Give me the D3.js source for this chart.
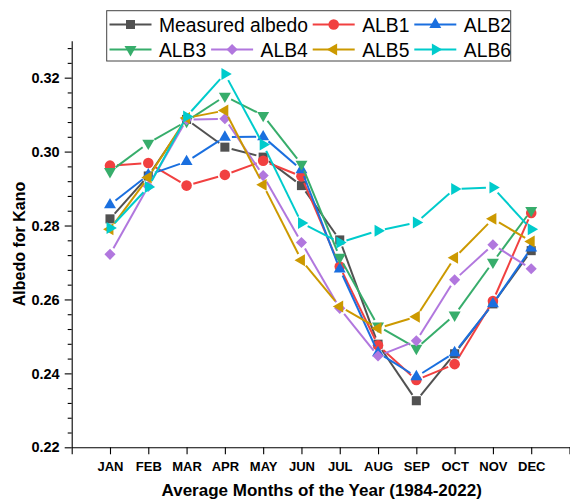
<!DOCTYPE html>
<html>
<head>
<meta charset="utf-8">
<script src="https://cdn.jsdelivr.net/npm/d3@7"></script>
<style>
  html, body { margin: 0; padding: 0; background: #fff; }
  svg { display: block; font-family: Arial, "Liberation Sans", sans-serif; }
</style>
</head>
<body>
<svg id="chart" width="570" height="502"></svg>
<script>
// Monthly mean albedo for Kano, 1984-2022: measured values and six model estimates
const months = ["JAN", "FEB", "MAR", "APR", "MAY", "JUN", "JUL", "AUG", "SEP", "OCT", "NOV", "DEC"];
const measured = [0.2818, 0.2934, 0.3087, 0.3012, 0.2985, 0.2908, 0.2761, 0.2479, 0.2326, 0.2453, 0.2588, 0.2732];
const alb1 = [0.2962, 0.2969, 0.2908, 0.2937, 0.2975, 0.2933, 0.2689, 0.2476, 0.2382, 0.2425, 0.2596, 0.2834];
const alb2 = [0.2856, 0.2937, 0.2973, 0.3039, 0.3040, 0.2951, 0.2682, 0.2456, 0.2391, 0.2456, 0.2588, 0.2739];
const alb3 = [0.2946, 0.3023, 0.3082, 0.3150, 0.3098, 0.2966, 0.2714, 0.2528, 0.2468, 0.2558, 0.2701, 0.2841];
const alb4 = [0.2722, 0.2906, 0.3086, 0.3089, 0.2935, 0.2754, 0.2576, 0.2447, 0.2488, 0.2653, 0.2748, 0.2683];
const alb5 = [0.2790, 0.2930, 0.3091, 0.3111, 0.2910, 0.2706, 0.2581, 0.2522, 0.2553, 0.2713, 0.2818, 0.2757];
const alb6 = [0.2793, 0.2904, 0.3095, 0.3210, 0.3019, 0.2807, 0.2754, 0.2786, 0.2808, 0.2899, 0.2903, 0.2790];
const seriesNames = ["Measured albedo", "ALB1", "ALB2", "ALB3", "ALB4", "ALB5", "ALB6"];
const yTicks = [0.22, 0.24, 0.26, 0.28, 0.30, 0.32];

const seriesValues = [measured, alb1, alb2, alb3, alb4, alb5, alb6];
const colors = ["#515151", "#F14040", "#1A6FDF", "#37AD6B", "#B177DE", "#CC9900", "#00CBCC"];

// marker shape and rotation per series
const markers = [
  { type: d3.symbolSquare, size: 82, rot: 0 },
  { type: d3.symbolCircle, size: 88, rot: 0 },
  { type: d3.symbolTriangle, size: 62, rot: 0 },
  { type: d3.symbolTriangle, size: 62, rot: 180 },
  { type: d3.symbolSquare, size: 62, rot: 45 },
  { type: d3.symbolTriangle, size: 62, rot: -90 },
  { type: d3.symbolTriangle, size: 62, rot: 90 }
];

const svg = d3.select("#chart");

const x = d3.scaleLinear().domain([0, 13]).range([71.7, 569.5]);
const y = d3.scaleLinear().domain([0.22, 0.33]).range([447.3, 40.7]);

// ---- axes ----
const xAxis = d3.axisBottom(x)
  .tickValues(d3.range(0, 14))
  .tickSize(7)
  .tickSizeOuter(0)
  .tickPadding(7.4)
  .tickFormat(i => (i >= 1 && i <= 12) ? months[i - 1] : "");

const gx = svg.append("g")
  .attr("transform", `translate(0,${y(0.22)})`)
  .call(xAxis);
gx.selectAll("text")
  .attr("fill", "#000")
  .style("font-size", "13px")
  .style("font-weight", "bold");

const minorY = d3.range(0, 28).map(i => 0.22 + i * 0.004)
  .filter(v => Math.abs(((v - 0.22) / 0.02) - Math.round((v - 0.22) / 0.02)) > 1e-6);

svg.append("g")
  .attr("transform", `translate(${x(0)},0)`)
  .call(d3.axisLeft(y).tickValues(minorY).tickSize(4).tickSizeOuter(0).tickFormat(""))
  .call(g => g.select(".domain").remove());

const gy = svg.append("g")
  .attr("transform", `translate(${x(0)},0)`)
  .call(d3.axisLeft(y).tickValues(yTicks).tickSize(7).tickSizeOuter(0).tickPadding(5).tickFormat(d3.format(".2f")));
gy.selectAll("text")
  .attr("fill", "#000")
  .style("font-size", "14.5px")
  .style("font-weight", "bold");

svg.selectAll(".domain, .tick line").attr("stroke", "#000").attr("stroke-width", 1.1);

// axis titles
svg.append("text")
  .attr("x", 321.7)
  .attr("y", 496)
  .attr("text-anchor", "middle")
  .style("font-size", "17px")
  .style("font-weight", "bold")
  .text("Average Months of the Year (1984-2022)");

svg.append("text")
  .attr("transform", `translate(25,${(y(0.22) + y(0.33)) / 2}) rotate(-90)`)
  .attr("text-anchor", "middle")
  .style("font-size", "16px")
  .style("font-weight", "bold")
  .text("Albedo for Kano");

// ---- series: line segments with a small gap around each marker, then markers ----
const gap = 7;
const plot = svg.append("g");

seriesValues.forEach((vals, si) => {
  const pts = vals.map((v, i) => [x(i + 1), y(v)]);
  const segs = d3.pairs(pts).map(([a, b]) => {
    const dx = b[0] - a[0], dy = b[1] - a[1];
    const len = Math.hypot(dx, dy);
    const ux = dx / len, uy = dy / len;
    return [a[0] + ux * gap, a[1] + uy * gap, b[0] - ux * gap, b[1] - uy * gap, len];
  }).filter(s => s[4] > 2 * gap);

  const g = plot.append("g");
  g.selectAll("line")
    .data(segs)
    .join("line")
    .attr("x1", s => s[0]).attr("y1", s => s[1])
    .attr("x2", s => s[2]).attr("y2", s => s[3])
    .attr("stroke", colors[si])
    .attr("stroke-width", 2);

  const m = markers[si];
  g.selectAll("path")
    .data(pts)
    .join("path")
    .attr("d", d3.symbol().type(m.type).size(m.size))
    .attr("transform", p => `translate(${p[0]},${p[1]}) rotate(${m.rot})`)
    .attr("fill", colors[si]);
});

// ---- legend ----
const legend = svg.append("g");
legend.append("rect")
  .attr("x", 106.7).attr("y", 10.7)
  .attr("width", 404).attr("height", 50.3)
  .attr("fill", "#fff")
  .attr("stroke", "#444")
  .attr("stroke-width", 1);

// grid slots: row, column (Measured albedo occupies two columns)
const slots = [[0, 0], [0, 2], [0, 3], [1, 0], [1, 1], [1, 2], [1, 3]];
const colStart = c => 109.5 + c * 101.6;
const rowMid = r => 24.5 + r * 25;

seriesNames.forEach((name, si) => {
  const [r, c] = slots[si];
  const x0 = colStart(c), cy = rowMid(r);
  const item = legend.append("g");
  item.append("line")
    .attr("x1", x0).attr("x2", x0 + 42)
    .attr("y1", cy).attr("y2", cy)
    .attr("stroke", colors[si]).attr("stroke-width", 2);
  const m = markers[si];
  item.append("path")
    .attr("d", d3.symbol().type(m.type).size(m.size))
    .attr("transform", `translate(${x0 + 21},${cy}) rotate(${m.rot})`)
    .attr("fill", colors[si]);
  item.append("text")
    .attr("x", x0 + 49.5)
    .attr("y", cy + 7)
    .style("font-size", "19.3px")
    .attr("fill", "#000")
    .text(name);
});
</script>
</body>
</html>
